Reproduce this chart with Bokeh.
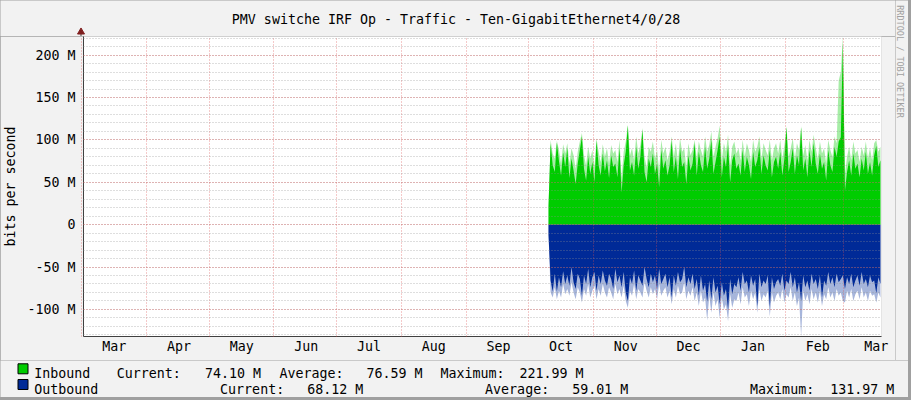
import math
from bokeh.plotting import figure
from bokeh.layouts import column, row
from bokeh.models import (Range1d, FixedTicker, SingleIntervalTicker, CustomJSTickFormatter)
from bokeh.core.properties import value
from bokeh.embed import file_html
from bokeh.resources import INLINE

# ---------------- data ----------------
# days counted from 1 March (first month shown)
month_starts = [0, 31, 61, 92, 122, 153, 184, 214, 245, 275, 306, 337, 365]
month_names = ["Mar", "Apr", "May", "Jun", "Jul", "Aug", "Sep", "Oct", "Nov", "Dec", "Jan", "Feb", "Mar"]
first_day = 223.5  # data starts early October

# bits per second, in millions (M)
inbound_body = [
    22, 96, 70, 62, 97, 75, 58, 85, 68, 90,
    55, 78, 64, 48, 72, 88, 104, 66, 52, 80,
    60, 74, 50, 99, 70, 58, 84, 63, 76, 55,
    82, 68, 72, 56, 90, 38, 70, 86, 117, 64,
    74, 58, 92, 66, 80, 112, 62, 50, 78, 68,
    84, 60, 72, 44, 88, 66, 76, 58, 70, 99,
    62, 80, 54, 90, 68, 74, 48, 82, 64, 72,
    96, 58, 86, 70, 62, 92, 66, 78, 100, 60,
    74, 88, 104, 56, 80, 68, 94, 50, 76, 84,
    66, 72, 58, 88, 62, 80, 70, 54, 86, 68,
    76, 92, 60, 82, 70, 64, 88, 56, 74, 80,
    66, 86, 58, 78, 115, 62, 74, 90, 60, 82,
    70, 115, 64, 78, 56, 88, 68, 96, 72, 60,
    84, 66, 74, 52, 88, 70, 62, 92, 80, 98,
    103, 214, 40, 62, 76, 58, 84, 66, 72, 56,
    78, 64, 86, 60, 74, 58, 82, 93, 68, 76,
]
inbound_peak = [
    22, 100, 84, 78, 99, 88, 72, 95, 84, 96,
    72, 90, 82, 66, 86, 98, 108, 82, 70, 92,
    78, 88, 68, 102, 86, 74, 95, 80, 90, 72,
    94, 84, 88, 74, 100, 56, 86, 98, 118, 82,
    90, 76, 104, 84, 94, 114, 80, 68, 92, 86,
    98, 78, 88, 64, 100, 84, 92, 76, 86, 104,
    80, 96, 74, 102, 86, 90, 68, 96, 82, 88,
    100, 78, 98, 88, 80, 104, 86, 94, 110, 80,
    92, 102, 117, 76, 96, 86, 106, 70, 92, 98,
    84, 90, 76, 100, 80, 96, 88, 74, 100, 86,
    92, 104, 78, 96, 88, 82, 100, 76, 90, 96,
    84, 100, 78, 94, 116, 80, 90, 102, 78, 96,
    88, 116, 82, 94, 76, 100, 86, 106, 90, 78,
    98, 84, 90, 72, 100, 88, 80, 104, 96, 170,
    180, 222, 60, 80, 92, 76, 98, 84, 88, 74,
    92, 82, 98, 78, 90, 76, 96, 100, 86, 92,
]
outbound_body = [
    -12, -66, -79, -58, -79, -62, -74, -55, -70, -60,
    -72, -50, -68, -76, -58, -64, -84, -60, -70, -52,
    -74, -62, -56, -78, -60, -70, -54, -66, -72, -58,
    -64, -76, -52, -68, -60, -74, -56, -80, -90, -62,
    -70, -54, -78, -60, -66, -72, -50, -64, -74, -58,
    -68, -60, -76, -52, -70, -64, -58, -74, -62, -86,
    -60, -72, -56, -68, -64, -50, -74, -62, -70, -58,
    -76, -64, -84, -60, -78, -70, -91, -66, -88, -62,
    -80, -72, -94, -68, -84, -76, -100, -64, -82, -70,
    -74, -62, -78, -56, -70, -66, -80, -60, -72, -64,
    -96, -58, -74, -66, -70, -60, -97, -62, -76, -68,
    -64, -72, -58, -78, -66, -70, -56, -74, -62, -80,
    -68, -90, -60, -74, -66, -78, -58, -70, -64, -76,
    -60, -86, -66, -72, -56, -70, -62, -74, -58, -68,
    -64, -60, -76, -62, -70, -58, -74, -66, -60, -72,
    -56, -70, -64, -74, -60, -68, -66, -81, -62, -70,
]
outbound_peak = [
    -12, -80, -86, -74, -88, -78, -86, -70, -82, -76,
    -84, -68, -80, -88, -74, -80, -92, -76, -84, -70,
    -86, -78, -72, -88, -76, -84, -70, -80, -86, -74,
    -80, -88, -70, -82, -76, -86, -72, -90, -98, -78,
    -84, -70, -88, -76, -80, -86, -68, -78, -86, -74,
    -82, -76, -88, -70, -84, -78, -74, -86, -78, -94,
    -76, -86, -72, -82, -80, -68, -88, -78, -84, -74,
    -90, -80, -96, -78, -92, -86, -113, -84, -104, -80,
    -96, -88, -110, -86, -100, -94, -114, -82, -98, -88,
    -90, -80, -94, -74, -86, -82, -96, -78, -88, -80,
    -104, -76, -90, -82, -86, -78, -108, -80, -92, -84,
    -80, -88, -76, -92, -82, -86, -74, -90, -80, -96,
    -86, -132, -78, -90, -82, -94, -76, -88, -80, -92,
    -78, -96, -82, -88, -74, -86, -80, -90, -76, -84,
    -80, -90, -92, -78, -86, -76, -90, -82, -78, -88,
    -74, -86, -80, -90, -78, -84, -82, -92, -80, -86,
]
days = [first_day + i for i in range(len(inbound_body))]
month_mids = [s + 15.5 for s in month_starts]

series_names = ["Inbound", "Outbound"]
series_colors = ["#00CC00", "#002A97"]
stat_labels = ["Current:", "Average:", "Maximum:"]
inbound_stats = ["74.10 M", "76.59 M", "221.99 M"]
outbound_stats = ["68.12 M", "59.01 M", "131.97 M"]

title_text = "PMV switche IRF Op - Traffic - Ten-GigabitEthernet4/0/28"
y_label = "bits per second"
watermark = "RRDTOOL / TOBI OETIKER"

X0, X1 = 0.75, 383.0
Y0, Y1 = -131.97, 221.99

FONT = "DejaVu Sans Mono"
FS = "13.3px"
BG = "#F2F2F2"
SHADE = "#A0A0A0"
AXIS = "#404040"
ARROW = "#801F1F"
GREEN, BLUE = series_colors


def strip(w, h, x0, x1, y0, y1):
    """A plain panel whose frame fills the canvas, in page pixel coordinates."""
    f = figure(width=w, height=h, output_backend="svg", toolbar_location=None,
               x_range=Range1d(x0, x1), y_range=Range1d(y1, y0),
               min_border=0, min_border_left=0, min_border_right=0,
               min_border_top=0, min_border_bottom=0)
    f.frame_align = False
    f.axis.visible = False
    f.grid.visible = False
    f.outline_line_color = None
    f.border_fill_color = BG
    f.background_fill_color = BG
    return f


# ---------------- main chart (plot area 800 x 300) ----------------
p = figure(width=895, height=324, output_backend="svg", toolbar_location=None,
           x_range=Range1d(X0, X1), y_range=Range1d(Y0, Y1),
           min_border_left=81, min_border_right=14, min_border_top=0, min_border_bottom=24)
p.frame_align = False
p.border_fill_color = BG
p.background_fill_color = "#FFFFFF"
p.outline_line_color = None

p.varea(x=days, y1=0, y2=inbound_peak, fill_color=GREEN, fill_alpha=0.35)
p.varea(x=days, y1=0, y2=inbound_body, fill_color=GREEN, fill_alpha=1.0)
p.varea(x=days, y1=0, y2=outbound_peak, fill_color=BLUE, fill_alpha=0.35)
p.varea(x=days, y1=0, y2=outbound_body, fill_color=BLUE, fill_alpha=1.0)

# grids drawn on top of the data, as rrdtool does
yt = SingleIntervalTicker(interval=50, num_minor_ticks=5)
p.ygrid.ticker = yt
p.ygrid.grid_line_color = "#DE4F4F"
p.ygrid.grid_line_alpha = 0.6
p.ygrid.grid_line_dash = "1 2"
p.ygrid.minor_grid_line_color = "#8F8F8F"
p.ygrid.minor_grid_line_alpha = 0.6
p.ygrid.minor_grid_line_dash = "1 2"
p.ygrid.level = "overlay"

p.xgrid.ticker = FixedTicker(ticks=month_starts)
p.xgrid.grid_line_color = "#DE4F4F"
p.xgrid.grid_line_alpha = 0.6
p.xgrid.grid_line_dash = "1 2"
p.xgrid.level = "overlay"

for ax in (p.xaxis[0], p.yaxis[0]):
    ax.axis_line_color = AXIS
    ax.major_tick_line_color = None
    ax.minor_tick_line_color = None
    ax.major_tick_out = 0
    ax.major_tick_in = 0
    ax.minor_tick_out = 0
    ax.minor_tick_in = 0
    ax.major_label_text_font = FONT
    ax.major_label_text_font_size = FS
    ax.major_label_text_color = "#000000"

p.yaxis.ticker = yt
p.yaxis.major_label_standoff = 8
p.yaxis.formatter = CustomJSTickFormatter(code="return tick == 0 ? '0' : tick.toFixed(0) + ' M';")
p.yaxis.axis_label = y_label
p.yaxis.axis_label_text_font = FONT
p.yaxis.axis_label_text_font_size = FS
p.yaxis.axis_label_text_font_style = "normal"
p.yaxis.axis_label_text_color = "#000000"
p.yaxis.axis_label_standoff = 6

p.xaxis.ticker = FixedTicker(ticks=month_mids)
p.xaxis.major_label_standoff = 2
p.xaxis.formatter = CustomJSTickFormatter(
    args=dict(pos=month_mids, names=month_names),
    code="for (let j = 0; j < pos.length; j++) { if (Math.abs(pos[j] - tick) < 0.01) return names[j]; } return '';")

# ---------------- title strip (page y 0..36) ----------------
top = strip(895, 36, 0, 895, 0, 36)
top.text(x=[455.5], y=[19.0], text=[title_text], text_font=value(FONT), text_font_size=FS,
         text_color="#000000", text_align="center", text_baseline="alphabetic")
top.segment(x0=[80.5], y0=[36], x1=[80.5], y1=[32], line_color=AXIS, line_width=1)
top.scatter(x=[80.5], y=[31.5], marker="triangle", size=7, fill_color=ARROW, line_color=ARROW)

# ---------------- right strip (page x 895..908) ----------------
right = strip(13, 360, 895, 908, 0, 360)
right.text(x=[899.0], y=[61.0], text=[watermark], angle=-math.pi / 2,
           text_font=value(FONT), text_font_size="8.5px", text_color="#A0A0A0",
           text_align="center", text_baseline="alphabetic")

# ---------------- legend strip (page y 360..397) ----------------
lg = strip(908, 37, 0, 908, 360, 397)
row_base = [373.3, 389.0]
lg.quad(left=[17.5, 17.5], right=[27.5, 27.5],
        top=[b - 10 for b in row_base], bottom=row_base,
        fill_color=series_colors, line_color="#000000", line_width=1)
lg.text(x=[33.7, 33.7], y=row_base, text=series_names,
        text_font=value(FONT), text_font_size=FS, text_color="#000000",
        text_baseline="alphabetic", text_align="left")

row_cols = [[116.2, 204.5, 279.0, 366.0, 439.9, 518.9],
            [219.6, 306.8, 484.6, 571.8, 749.6, 829.8]]
for r, stats in enumerate([inbound_stats, outbound_stats]):
    texts = []
    for lab, val in zip(stat_labels, stats):
        texts += [lab, val]
    lg.text(x=row_cols[r], y=[row_base[r]] * len(texts), text=texts,
            text_font=value(FONT), text_font_size=FS, text_color="#000000",
            text_baseline="alphabetic", text_align="left")

layout = column(row(column(top, p, spacing=0), right, spacing=0), lg, spacing=0,
                width=911, height=400, styles={"background-color": SHADE})
open("out.html", "w").write(file_html(layout, INLINE))
